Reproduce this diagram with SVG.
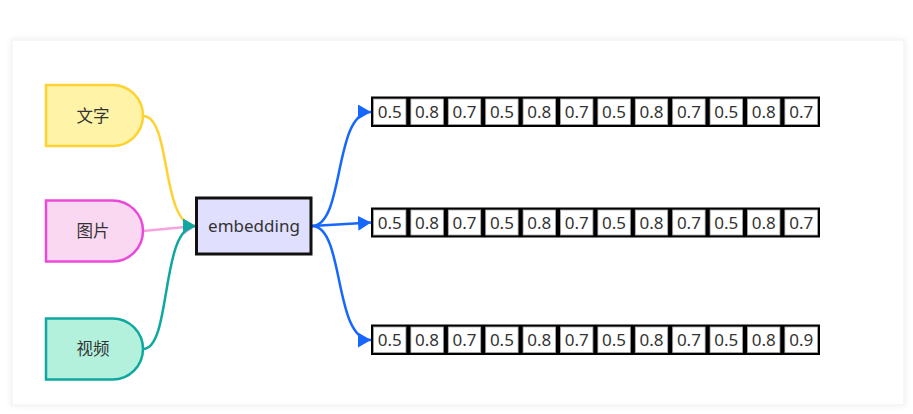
<svg xmlns="http://www.w3.org/2000/svg" width="913" height="414" viewBox="0 0 913 414">
<defs>
<filter id="sh" x="-5%" y="-5%" width="110%" height="110%"><feDropShadow dx="0" dy="0" stdDeviation="3" flood-color="#000" flood-opacity="0.08"/></filter>
<marker id="aY" markerUnits="userSpaceOnUse" markerWidth="14" markerHeight="15" refX="13" refY="7.5" orient="auto"><path d="M0,0 L13,7.5 L0,15 z" fill="#FDD231"/></marker>
<marker id="aP" markerUnits="userSpaceOnUse" markerWidth="14" markerHeight="15" refX="13" refY="7.5" orient="auto"><path d="M0,0 L13,7.5 L0,15 z" fill="#F7A3E0"/></marker>
<marker id="aT" markerUnits="userSpaceOnUse" markerWidth="14" markerHeight="15" refX="13" refY="7.5" orient="auto"><path d="M0,0 L13,7.5 L0,15 z" fill="#0FA8A0"/></marker>
<marker id="aB" markerUnits="userSpaceOnUse" markerWidth="14" markerHeight="15" refX="13" refY="7.5" orient="auto"><path d="M0,0 L13,7.5 L0,15 z" fill="#1667FF"/></marker>
</defs>
<style>
.lbl{font-family:"Noto Sans","Noto Sans CJK SC",sans-serif;fill:#333;text-anchor:middle}
.cn{font-size:16.5px}
.num{font-family:"Noto Sans",sans-serif;font-size:17px;fill:#333;text-anchor:middle}
.bar{fill:#000}
.cell{fill:#fff;stroke:#aaa;stroke-width:0.8}
.c{fill:none;stroke-width:2.5}
</style>
<rect x="12" y="40" width="892" height="365" fill="#fff" stroke="#efefef" filter="url(#sh)"/>

<g id="connectors">
<path class="c" d="M143,116 C172,116 160,226 196,226" stroke="#FDD231" marker-end="url(#aY)"/>
<path class="c" d="M143,231 L196,226" stroke="#F7A3E0" marker-end="url(#aP)"/>
<path class="c" d="M143,349 C172,349 160,226 196,226" stroke="#0FA8A0" marker-end="url(#aT)"/>
<path class="c" d="M312,226 C345,226 333,112 371,112" stroke="#1667FF" marker-end="url(#aB)"/>
<path class="c" d="M312,226 L371,222.5" stroke="#1667FF" marker-end="url(#aB)"/>
<path class="c" d="M312,226 C345,226 333,340 371,340" stroke="#1667FF" marker-end="url(#aB)"/>
</g>

<g id="node-wenzi">
<path d="M46,85 H112.5 A30.5,30.5 0 0 1 112.5,146 H46 Z" fill="#FEF3A6" stroke="#FDD231" stroke-width="2.5"/>
<text class="lbl cn" x="93" y="121.5">文字</text>
</g>
<g id="node-tupian">
<path d="M46,200.5 H112.5 A30.5,30.5 0 0 1 112.5,261.5 H46 Z" fill="#FAD8F1" stroke="#EB4AD8" stroke-width="2.5"/>
<text class="lbl cn" x="93" y="237">图片</text>
</g>
<g id="node-shipin">
<path d="M46,318.5 H112.5 A30.5,30.5 0 0 1 112.5,379.5 H46 Z" fill="#B3F1DD" stroke="#0FA8A0" stroke-width="2.5"/>
<text class="lbl cn" x="93" y="355">视频</text>
</g>
<g id="node-embedding">
<rect x="196.5" y="198" width="114.5" height="56" fill="#E0E0FE" stroke="#111" stroke-width="3"/>
<text class="lbl" x="254" y="232" font-size="17">embedding</text>
</g>

<g id="row1">
<rect class="bar" x="371" y="96.5" width="449" height="30.5"/>
<rect class="cell" x="373.5" y="99" width="32.4" height="25.5"/>
<rect class="cell" x="410.9" y="99" width="32.4" height="25.5"/>
<rect class="cell" x="448.3" y="99" width="32.4" height="25.5"/>
<rect class="cell" x="485.7" y="99" width="32.4" height="25.5"/>
<rect class="cell" x="523.1" y="99" width="32.4" height="25.5"/>
<rect class="cell" x="560.5" y="99" width="32.4" height="25.5"/>
<rect class="cell" x="597.9" y="99" width="32.4" height="25.5"/>
<rect class="cell" x="635.3" y="99" width="32.4" height="25.5"/>
<rect class="cell" x="672.7" y="99" width="32.4" height="25.5"/>
<rect class="cell" x="710.1" y="99" width="32.4" height="25.5"/>
<rect class="cell" x="747.5" y="99" width="32.4" height="25.5"/>
<rect class="cell" x="784.9" y="99" width="32.6" height="25.5"/>
<text class="num" y="118"><tspan x="389.7">0.5</tspan><tspan x="427.1">0.8</tspan><tspan x="464.5">0.7</tspan><tspan x="501.9">0.5</tspan><tspan x="539.3">0.8</tspan><tspan x="576.7">0.7</tspan><tspan x="614.1">0.5</tspan><tspan x="651.5">0.8</tspan><tspan x="688.9">0.7</tspan><tspan x="726.3">0.5</tspan><tspan x="763.7">0.8</tspan><tspan x="801.2">0.7</tspan></text>
</g>

<g id="row2">
<rect class="bar" x="371" y="207.5" width="449" height="30"/>
<rect class="cell" x="373.5" y="210" width="32.4" height="25"/>
<rect class="cell" x="410.9" y="210" width="32.4" height="25"/>
<rect class="cell" x="448.3" y="210" width="32.4" height="25"/>
<rect class="cell" x="485.7" y="210" width="32.4" height="25"/>
<rect class="cell" x="523.1" y="210" width="32.4" height="25"/>
<rect class="cell" x="560.5" y="210" width="32.4" height="25"/>
<rect class="cell" x="597.9" y="210" width="32.4" height="25"/>
<rect class="cell" x="635.3" y="210" width="32.4" height="25"/>
<rect class="cell" x="672.7" y="210" width="32.4" height="25"/>
<rect class="cell" x="710.1" y="210" width="32.4" height="25"/>
<rect class="cell" x="747.5" y="210" width="32.4" height="25"/>
<rect class="cell" x="784.9" y="210" width="32.6" height="25"/>
<text class="num" y="228.5"><tspan x="389.7">0.5</tspan><tspan x="427.1">0.8</tspan><tspan x="464.5">0.7</tspan><tspan x="501.9">0.5</tspan><tspan x="539.3">0.8</tspan><tspan x="576.7">0.7</tspan><tspan x="614.1">0.5</tspan><tspan x="651.5">0.8</tspan><tspan x="688.9">0.7</tspan><tspan x="726.3">0.5</tspan><tspan x="763.7">0.8</tspan><tspan x="801.2">0.7</tspan></text>
</g>

<g id="row3">
<rect class="bar" x="371" y="324.5" width="449" height="30.5"/>
<rect class="cell" x="373.5" y="327" width="32.4" height="25.5"/>
<rect class="cell" x="410.9" y="327" width="32.4" height="25.5"/>
<rect class="cell" x="448.3" y="327" width="32.4" height="25.5"/>
<rect class="cell" x="485.7" y="327" width="32.4" height="25.5"/>
<rect class="cell" x="523.1" y="327" width="32.4" height="25.5"/>
<rect class="cell" x="560.5" y="327" width="32.4" height="25.5"/>
<rect class="cell" x="597.9" y="327" width="32.4" height="25.5"/>
<rect class="cell" x="635.3" y="327" width="32.4" height="25.5"/>
<rect class="cell" x="672.7" y="327" width="32.4" height="25.5"/>
<rect class="cell" x="710.1" y="327" width="32.4" height="25.5"/>
<rect class="cell" x="747.5" y="327" width="32.4" height="25.5"/>
<rect class="cell" x="784.9" y="327" width="32.6" height="25.5"/>
<text class="num" y="346"><tspan x="389.7">0.5</tspan><tspan x="427.1">0.8</tspan><tspan x="464.5">0.7</tspan><tspan x="501.9">0.5</tspan><tspan x="539.3">0.8</tspan><tspan x="576.7">0.7</tspan><tspan x="614.1">0.5</tspan><tspan x="651.5">0.8</tspan><tspan x="688.9">0.7</tspan><tspan x="726.3">0.5</tspan><tspan x="763.7">0.8</tspan><tspan x="801.2">0.9</tspan></text>
</g>
</svg>
